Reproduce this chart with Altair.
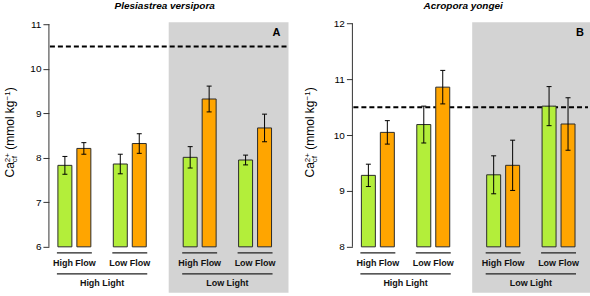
import altair as alt
import pandas as pd

# ---------------- data ----------------
lights = ["High Light", "Low Light"]
flows = ["High Flow", "Low Flow"]
treatments = ["Treatment 1", "Treatment 2"]
bar_colors = ["#B3EE3A", "#FFA500"]

species = ["Plesiastrea versipora", "Acropora yongei"]
panel_letters = ["A", "B"]

# order: (light, flow, treatment)
a_means = [7.83, 8.21, 7.86, 8.32, 8.01, 9.32, 7.95, 8.67]
a_errs = [0.20, 0.13, 0.22, 0.22, 0.24, 0.29, 0.11, 0.31]
b_means = [9.28, 10.05, 10.19, 10.86, 9.29, 9.46, 10.52, 10.20]
b_errs = [0.20, 0.21, 0.33, 0.30, 0.34, 0.45, 0.35, 0.47]

a_ticks = [6, 7, 8, 9, 10, 11]
b_ticks = [8, 9, 10, 11, 12]
seawater_ca = 10.5

# ---------------- layout ----------------
FONT = "Liberation Sans"
PLOT_H = 271
BOTTOM_PAD = 46     # px below lowest tick (room for group labels)
X0, T_STEP, F_STEP, L_STEP, HALF = 16, 19, 55.5, 125.5, 7
GRAY_START = 120


def y_title_layers(bx):
    """Ca^{2+}_{cf} (mmol kg^{-1}) built from rotated text pieces."""
    yb = 155.5
    main, small = 12, 8
    pieces = []
    y = yb
    pieces.append(("Ca", y, bx, main))
    y -= 1.278 * main
    pieces.append(("2+", y, bx - 4.5, small))
    pieces.append(("cf", y, bx + 2.8, small))
    y -= 1.14 * small + 0.278 * main
    pieces.append(("(mmol kg", y, bx, main))
    y -= 4.111 * main
    pieces.append(("\u22121", y, bx - 4.5, small))
    y -= 1.14 * small
    pieces.append((")", y, bx, main))
    layers = []
    for txt, yy, xx, fs in pieces:
        layers.append(
            alt.Chart(pd.DataFrame({"t": [txt]}))
            .mark_text(angle=270, align="left", baseline="alphabetic",
                       font=FONT, fontSize=fs, color="black")
            .encode(x=alt.value(xx), y=alt.value(yy), text="t:N")
        )
    return layers


def panel(means, errs, ticks, title, letter, width, top_px, ytitle_x, title_x):
    ppu = (PLOT_H - BOTTOM_PAD - top_px) / (ticks[-1] - ticks[0])
    ydom = [ticks[0] - BOTTOM_PAD / ppu, ticks[-1] + top_px / ppu]
    xs = alt.Scale(domain=[0, width], nice=False, zero=False)
    ys = alt.Scale(domain=ydom, nice=False, zero=False)
    yaxis = alt.Axis(values=ticks, domain=False, grid=False, title=None,
                     tickSize=6, tickColor="#333", tickWidth=1,
                     labelFontSize=10, labelFont=FONT, labelColor="black",
                     labelPadding=2)

    rows = []
    for li, light in enumerate(lights):
        for fi, flow in enumerate(flows):
            for ti, tr in enumerate(treatments):
                k = li * 4 + fi * 2 + ti
                c = X0 + li * L_STEP + fi * F_STEP + ti * T_STEP
                rows.append(dict(light=light, flow=flow, treat=tr,
                                 mean=means[k], lo=means[k] - errs[k],
                                 hi=means[k] + errs[k], base=ticks[0],
                                 c=c, x0=c - HALF, x1=c + HALF,
                                 cl=c - 2.5, cr=c + 2.5))
    df = pd.DataFrame(rows)

    caps = pd.concat([df.assign(yc=df["lo"]), df.assign(yc=df["hi"])])

    flow_br = []
    for li, light in enumerate(lights):
        for fi, flow in enumerate(flows):
            c0 = X0 + li * L_STEP + fi * F_STEP
            c1 = c0 + T_STEP
            flow_br.append(dict(flow=flow, x0=c0 - HALF - 1, x1=c1 + HALF + 1,
                                xc=(c0 + c1) / 2))
    flow_br = pd.DataFrame(flow_br)
    light_br = []
    for li, light in enumerate(lights):
        c0 = X0 + li * L_STEP
        c1 = c0 + F_STEP + T_STEP
        light_br.append(dict(light=light, x0=c0 - HALF - 1, x1=c1 + HALF + 1,
                             xc=(c0 + c1) / 2))
    light_br = pd.DataFrame(light_br)

    gray = alt.Chart(pd.DataFrame({"g0": [GRAY_START], "g1": [width]})).mark_rect(
        color="#D3D3D3").encode(
        x=alt.X("g0:Q", scale=xs, axis=None), x2="g1:Q",
        y=alt.value(0), y2=alt.value(PLOT_H))

    axis_line = alt.Chart(pd.DataFrame({"lo": [ticks[0]], "hi": [ticks[-1]]})).mark_rule(
        color="#333", strokeWidth=1).encode(
        x=alt.value(0), y=alt.Y("lo:Q", scale=ys, axis=yaxis), y2="hi:Q")

    dashed = alt.Chart(pd.DataFrame({"ca": [seawater_ca]})).mark_rule(
        color="black", strokeWidth=2, strokeDash=[5, 3]).encode(
        x=alt.value(1), x2=alt.value(width - 2),
        y=alt.Y("ca:Q", scale=ys, axis=yaxis))

    bars = alt.Chart(df).mark_rect(stroke="#2b2b2b", strokeWidth=1).encode(
        x=alt.X("x0:Q", scale=xs, axis=None), x2="x1:Q",
        y=alt.Y("base:Q", scale=ys, axis=yaxis), y2="mean:Q",
        color=alt.Color("treat:N", scale=alt.Scale(domain=treatments, range=bar_colors),
                        legend=None))

    err = alt.Chart(df).mark_rule(color="black", strokeWidth=1).encode(
        x=alt.X("c:Q", scale=xs, axis=None),
        y=alt.Y("lo:Q", scale=ys, axis=yaxis), y2="hi:Q")

    cap = alt.Chart(caps).mark_rule(color="black", strokeWidth=1).encode(
        x=alt.X("cl:Q", scale=xs, axis=None), x2="cr:Q",
        y=alt.Y("yc:Q", scale=ys, axis=yaxis))

    fl_line = alt.Chart(flow_br).mark_rule(color="#222", strokeWidth=1.3).encode(
        x=alt.X("x0:Q", scale=xs, axis=None), x2="x1:Q", y=alt.value(231))
    fl_text = alt.Chart(flow_br).mark_text(
        font=FONT, fontSize=9, fontWeight="bold", baseline="middle", color="#111").encode(
        x=alt.X("xc:Q", scale=xs, axis=None), y=alt.value(241), text="flow:N")
    li_line = alt.Chart(light_br).mark_rule(color="#222", strokeWidth=1.3).encode(
        x=alt.X("x0:Q", scale=xs, axis=None), x2="x1:Q", y=alt.value(252))
    li_text = alt.Chart(light_br).mark_text(
        font=FONT, fontSize=9, fontWeight="bold", baseline="middle", color="#111").encode(
        x=alt.X("xc:Q", scale=xs, axis=None), y=alt.value(261), text="light:N")

    ttl = alt.Chart(pd.DataFrame({"t": [title]})).mark_text(
        font=FONT, fontSize=10, fontWeight="bold", fontStyle="italic",
        baseline="middle", color="black").encode(
        x=alt.value(title_x), y=alt.value(-16), text="t:N")

    let = alt.Chart(pd.DataFrame({"t": [letter]})).mark_text(
        font=FONT, fontSize=11, fontWeight="bold", baseline="middle", color="black").encode(
        x=alt.value(228), y=alt.value(11), text="t:N")

    layers = [gray, axis_line, dashed, bars, err, cap, fl_line, fl_text,
              li_line, li_text, ttl, let] + y_title_layers(ytitle_x)
    return alt.layer(*layers).properties(width=width, height=PLOT_H)


pA = panel(a_means, a_errs, a_ticks, species[0], panel_letters[0], 240, 2.0, -34.5, 116)
pB = panel(b_means, b_errs, b_ticks, species[1], panel_letters[1], 238, 1.3, -38, 111)

chart = alt.hconcat(pA, pB, spacing=15).properties(
    padding={"left": 3, "top": 1, "right": 0, "bottom": 0}
).configure_view(stroke=None)

chart.save("out.html", embed_options={"renderer": "svg", "actions": False})
